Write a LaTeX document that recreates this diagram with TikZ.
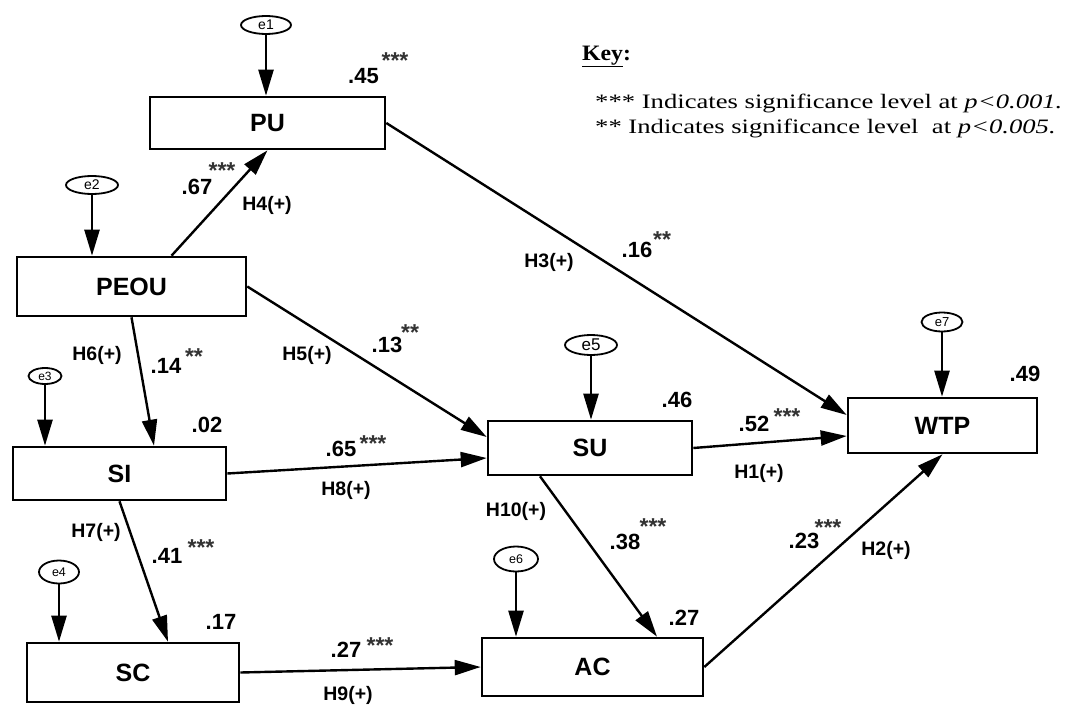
\documentclass[tikz,border=0pt]{standalone}
\usepackage{fontspec}
\setmainfont{Liberation Serif}
\setsansfont{Liberation Sans}
\newfontfamily\keyfont[FakeStretch=1.3]{Liberation Serif}
\newfontfamily\keyheadfont[FakeStretch=1.08]{Liberation Serif}
\usetikzlibrary{arrows.meta,shapes.geometric}
\begin{document}
\begin{tikzpicture}[x=1pt,y=-1pt,
 box/.style={draw, line width=2.6pt, inner sep=0pt, font=\sffamily\bfseries\fontsize{25}{25}\selectfont},
 err/.style={draw, ellipse, line width=1.8pt, inner sep=0pt, font=\sffamily\fontsize{14}{14}\selectfont},
 arr/.style={line width=2.4pt, -{Triangle[length=26pt,width=15pt]}},
 coef/.style={font=\sffamily\bfseries\fontsize{22}{22}\selectfont, inner sep=0pt},
 stars/.style={font=\sffamily\bfseries\fontsize{23}{23}\selectfont, inner sep=0pt, anchor=north, text=black!80},
 hyp/.style={font=\sffamily\bfseries\fontsize{19.5}{19.5}\selectfont, inner sep=0pt},
 keytext/.style={font=\keyfont\fontsize{20.5}{20.5}\selectfont, inner sep=0pt, anchor=base west}]
\useasboundingbox (0,0) rectangle (1065,709);
\fill[white] (0,0) rectangle (1065,709);

% boxes
\node[box, minimum width=235pt, minimum height=52pt] (PU) at (267.5,123) {PU};
\node[box, minimum width=229pt, minimum height=59pt] (PEOU) at (131.5,286.5) {PEOU};
\node[box, minimum width=213pt, minimum height=53pt] (SI) at (119.5,473.5) {SI};
\node[box, minimum width=212pt, minimum height=59pt] (SC) at (133,672.5) {SC};
\node[box, minimum width=204pt, minimum height=54pt] (SU) at (590,448) {SU};
\node[box, minimum width=221pt, minimum height=58pt] (AC) at (592.5,667) {AC};
\node[box, minimum width=189pt, minimum height=55pt] (WTP) at (942.5,425.5) {WTP};

% error terms
\node[err, minimum width=50pt, minimum height=18pt] (e1) at (266,25) {e1};
\node[err, minimum width=52pt, minimum height=18pt] (e2) at (92,185) {e2};
\node[err, minimum width=33pt, minimum height=16pt, font=\sffamily\fontsize{12}{12}\selectfont] (e3) at (45,376) {e3};
\node[err, minimum width=40pt, minimum height=23pt, font=\sffamily\fontsize{12.5}{12.5}\selectfont] (e4) at (59,572) {e4};
\node[err, minimum width=52pt, minimum height=20pt, font=\sffamily\fontsize{17}{17}\selectfont] (e5) at (591,345) {e5};
\node[err, minimum width=44pt, minimum height=25pt, font=\sffamily\fontsize{12.5}{12.5}\selectfont] (e6) at (516,559) {e6};
\node[err, minimum width=41pt, minimum height=19pt, font=\sffamily\fontsize{13}{13}\selectfont] (e7) at (942,322) {e7};

\foreach \e/\b in {e1/PU,e2/PEOU,e3/SI,e4/SC,e5/SU,e6/AC,e7/WTP}
  \draw[arr] (\e.south) -- (\e.south |- \b.north);

% paths
\draw[arr] ([xshift=40pt]PEOU.north) -- (PU.south);
\draw[arr] (PU.east) -- ([yshift=10.5pt]WTP.west);
\draw[arr] (PEOU.east) -- ([yshift=11pt]SU.west);
\draw[arr] (PEOU.south) -- ([xshift=34.5pt]SI.north);
\draw[arr] (SI.east) -- ([yshift=-10pt]SU.west);
\draw[arr] (SI.south) -- ([xshift=35pt]SC.north);
\draw[arr] (SU.east) -- ([yshift=-10.5pt]WTP.west);
\draw[arr] ([xshift=-50pt]SU.south) -- ([xshift=64.5pt]AC.north);
\draw[arr] (SC.east) -- (AC.west);
\draw[arr] (AC.east) -- (WTP.south);

% coefficients
\node[coef] (c45) at (363.5,76) {.45};
\node[stars] (s45) at (395,52) {***};
\node[coef] (c67) at (197,187) {.67};
\node[stars] (s67) at (222,162) {***};
\node[coef] (c16) at (637,250) {.16};
\node[stars] (s16) at (662,231) {**};
\node[coef] (c13) at (387,345) {.13};
\node[stars] (s13) at (410,324) {**};
\node[coef] (c14) at (166,366) {.14};
\node[stars] (s14) at (194,348) {**};
\node[coef] (c65) at (341,449) {.65};
\node[stars] (s65) at (373,435) {***};
\node[coef] (c02) at (207,425) {.02};
\node[coef] (c46) at (677,400) {.46};
\node[coef] (c52) at (754,424) {.52};
\node[stars] (s52) at (787,408) {***};
\node[coef] (c49) at (1025,374) {.49};
\node[coef] (c23) at (804,541) {.23};
\node[stars] (s23) at (828,519) {***};
\node[coef] (c38) at (625,542) {.38};
\node[stars] (s38) at (653,518) {***};
\node[coef] (c41) at (167,556) {.41};
\node[stars] (s41) at (201,539) {***};
\node[coef] (c17) at (221,622) {.17};
\node[coef] (c27a) at (684,618) {.27};
\node[coef] (c27b) at (346,650) {.27};
\node[stars] (s27b) at (380,637) {***};

% hypotheses
\node[hyp] (h4) at (267,205) {H4(+)};
\node[hyp] (h3) at (549,262) {H3(+)};
\node[hyp] (h5) at (307,355) {H5(+)};
\node[hyp] (h6) at (97,355) {H6(+)};
\node[hyp] (h8) at (346,490) {H8(+)};
\node[hyp] (h1) at (759,473) {H1(+)};
\node[hyp] (h10) at (516,511) {H10(+)};
\node[hyp] (h7) at (96,532) {H7(+)};
\node[hyp] (h2) at (886,550) {H2(+)};
\node[hyp] (h9) at (348,695) {H9(+)};

% key
\node[keytext, font=\keyheadfont\bfseries\fontsize{22}{22}\selectfont] (key) at (582,60) {\underline{Key}:};
\node[keytext] (k1) at (595,108) {*** Indicates significance level at \textit{p<0.001.}};
\node[keytext] (k2) at (595,133) {** Indicates significance level\ \ at \textit{p<0.005.}};
\end{tikzpicture}
\end{document}
